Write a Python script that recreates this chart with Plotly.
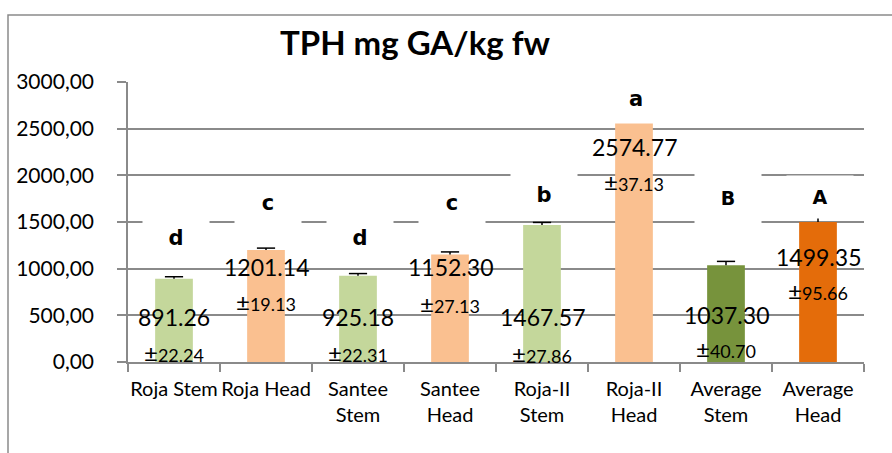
import plotly.graph_objects as go

# ---- data ----
categories = ["Roja Stem", "Roja Head", "Santee Stem", "Santee Head",
              "Roja-II Stem", "Roja-II Head", "Average Stem", "Average Head"]
tick_labels = ["Roja Stem", "Roja Head", "Santee<br>Stem", "Santee<br>Head",
               "Roja-II<br>Stem", "Roja-II<br>Head", "Average<br>Stem", "Average<br>Head"]
tph_values = [891.26, 1201.14, 925.18, 1152.30, 1467.57, 2574.77, 1037.30, 1499.35]
sd_values = [22.24, 19.13, 22.31, 27.13, 27.86, 37.13, 40.70, 95.66]
sig_letters = ["d", "c", "d", "c", "b", "a", "B", "A"]
y_tickvals = [0, 500, 1000, 1500, 2000, 2500, 3000]
y_ticktext = ["0,00", "500,00", "1000,00", "1500,00", "2000,00", "2500,00", "3000,00"]

# ---- styling / placement ----
bar_colors = ["#C4D79B", "#FAC090", "#C4D79B", "#FAC090",
              "#C4D79B", "#FAC090", "#77933C", "#E46C0A"]
value_label_y = [482, 1018, 482, 1018, 482, 2304, 504, 1125]
sd_label_y = [107, 643, 107, 632, 96, 1929, 150, 771]
letter_y = [1329, 1704, 1329, 1704, 1789, 2820, 1757, 1768]
letter_box_h = [44, 44, 44, 44, 44, 48, 50, 42]
letter_size = [21, 21, 21, 21, 21, 21, 19, 19]
GRID = "#8a8a8a"

fig = go.Figure()
fig.add_trace(go.Bar(
    x=categories, y=tph_values,
    marker=dict(color=bar_colors, line=dict(width=0)),
    error_y=dict(type="data", array=sd_values, arrayminus=[0] * len(sd_values),
                 symmetric=False, color="black", thickness=1.5, width=0),
    width=0.41,
    hoverinfo="skip",
))
# error-bar caps (upper end only)
fig.add_trace(go.Scatter(
    x=categories, y=[v + s for v, s in zip(tph_values, sd_values)],
    mode="markers",
    marker=dict(symbol="line-ew", size=13, line=dict(color="black", width=1.5)),
    hoverinfo="skip",
))

annotations = []
for i, cat in enumerate(categories):
    annotations.append(dict(
        x=cat, y=value_label_y[i], xref="x", yref="y",
        text=f"{tph_values[i]:.2f}", showarrow=False,
        font=dict(family="Lato", size=23, color="black"),
        xanchor="center", yanchor="middle"))
    annotations.append(dict(
        x=cat, y=sd_label_y[i], xref="x", yref="y",
        text=f"<span style='font-size:24px'>±</span>{sd_values[i]:.2f}", showarrow=False,
        font=dict(family="Lato", size=18, color="black"),
        xanchor="center", yanchor="middle"))
    annotations.append(dict(
        x=cat, y=letter_y[i], xref="x", yref="y",
        text=f"<b>{sig_letters[i]}</b>", showarrow=False,
        font=dict(family="DejaVu Sans", size=letter_size[i], color="black"),
        bgcolor="white", borderpad=0, width=66, height=letter_box_h[i],
        xanchor="center", yanchor="middle", xshift=2))

fig.update_layout(
    width=892, height=453,
    margin=dict(l=128, r=28, t=82, b=91, autoexpand=False),
    paper_bgcolor="white", plot_bgcolor="white",
    showlegend=False,
    title=dict(text="<b>TPH mg GA/kg fw</b>", x=415 / 892, xref="container",
               y=1 - 43 / 453, yref="container", xanchor="center", yanchor="middle",
               font=dict(family="Lato", size=33, color="black")),
    annotations=annotations,
    shapes=[dict(type="rect", xref="paper", yref="paper",
                 x0=(8 - 128) / 736, x1=(900 - 128) / 736,
                 y0=(362 - 470) / 280, y1=(362 - 15) / 280,
                 line=dict(color=GRID, width=1.5), fillcolor="rgba(0,0,0,0)",
                 layer="below")],
)
fig.update_xaxes(
    type="category", range=[-0.5, 7.5],
    tickvals=categories, ticktext=tick_labels, tickangle=0, automargin=False,
    tickson="boundaries", ticks="outside", ticklen=8, tickcolor=GRID, tickwidth=1.5,
    showline=True, linecolor=GRID, linewidth=1.5, showgrid=False,
    tickfont=dict(family="Lato", size=20, color="black"),
    ticklabelstandoff=8,
)
fig.update_yaxes(
    range=[0, 3000], tickvals=y_tickvals, ticktext=y_ticktext, automargin=False,
    ticks="outside", ticklen=9, tickcolor=GRID, tickwidth=1.5,
    showline=True, linecolor=GRID, linewidth=1.5,
    showgrid=True, gridcolor=GRID, gridwidth=1.5, zeroline=False,
    tickfont=dict(family="Lato", size=21, color="black"),
    ticklabelstandoff=19,
)

fig.write_html("out.html", config={"displayModeBar": False},
               post_script="document.body.style.margin='0';")
